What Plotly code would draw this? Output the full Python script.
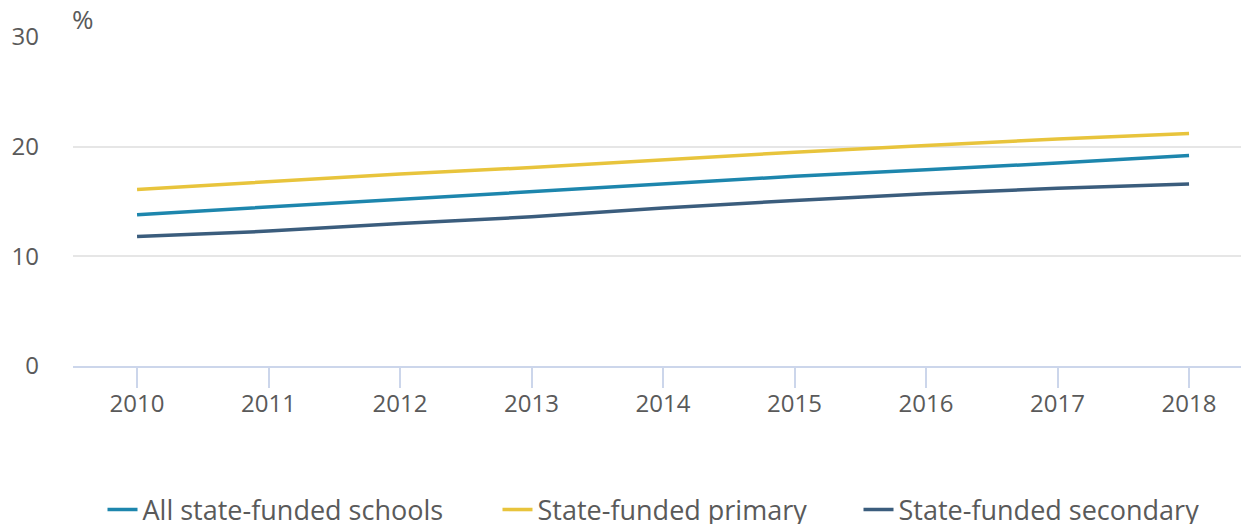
import plotly.graph_objects as go

years = [2010, 2011, 2012, 2013, 2014, 2015, 2016, 2017, 2018]
all_schools = [13.8, 14.5, 15.2, 15.9, 16.6, 17.3, 17.9, 18.5, 19.2]
primary = [16.1, 16.8, 17.5, 18.1, 18.8, 19.5, 20.1, 20.7, 21.2]
secondary = [11.8, 12.3, 13.0, 13.6, 14.4, 15.1, 15.7, 16.2, 16.6]
y_ticks = [0, 10, 20, 30]

series = [
    ("All state-funded schools", all_schools, "#1d86ad", "legend"),
    ("State-funded primary", primary, "#e8c43c", "legend2"),
    ("State-funded secondary", secondary, "#3b5d7d", "legend3"),
]

# the page body has an 8px margin, so the figure is drawn 8px smaller and offset
OFF = 8
W, H = 1249 - OFF, 524 - OFF
fig = go.Figure()
for name, vals, col, lg in series:
    fig.add_trace(go.Scatter(x=years, y=vals, name=name, mode="lines", legend=lg,
                             line=dict(color=col, width=3.5)))

font_col = "#5a5a5a"
leg_font = dict(size=27, color=font_col, family="Open Sans")


def leg(text_px):
    # legend text starts ~40.5px right of the legend's left edge
    px = text_px - 40.5 - OFF
    return dict(orientation="h", xref="container", yref="container", x=px / W, xanchor="left",
                y=1 - (510 - OFF) / H, yanchor="middle", font=leg_font, bgcolor="rgba(0,0,0,0)",
                itemwidth=30)


fig.update_layout(
    width=W, height=H,
    margin=dict(l=73 - OFF, r=0, t=37 - OFF, b=H - (366 - OFF), autoexpand=False),
    paper_bgcolor="white", plot_bgcolor="white",
    font=dict(family="Open Sans", size=24, color=font_col),
    showlegend=True,
    legend=leg(143), legend2=leg(538), legend3=leg(899),
    xaxis=dict(range=[2009.513, 2018.456], tickvals=years, ticktext=[str(y) for y in years],
               showgrid=False, showline=True, linecolor="#ccd6eb", linewidth=1.5,
               ticks="outside", ticklen=20, tickwidth=1.5, tickcolor="#ccd6eb",
               ticklabelstandoff=-5,
               tickfont=dict(size=24, color=font_col), zeroline=False, fixedrange=True),
    yaxis=dict(range=[0, 30], tickvals=y_ticks, showgrid=True, gridcolor="#e6e6e6", gridwidth=1.5,
               zeroline=False, showline=False, ticklabelstandoff=33,
               tickfont=dict(size=24, color=font_col), fixedrange=True),
    annotations=[dict(text="%", xref="paper", yref="paper", x=0, y=1, xanchor="left", yanchor="bottom",
                      yshift=-2, xshift=-3, showarrow=False, font=dict(size=26, color=font_col))],
)

fig.write_html("out.html")
